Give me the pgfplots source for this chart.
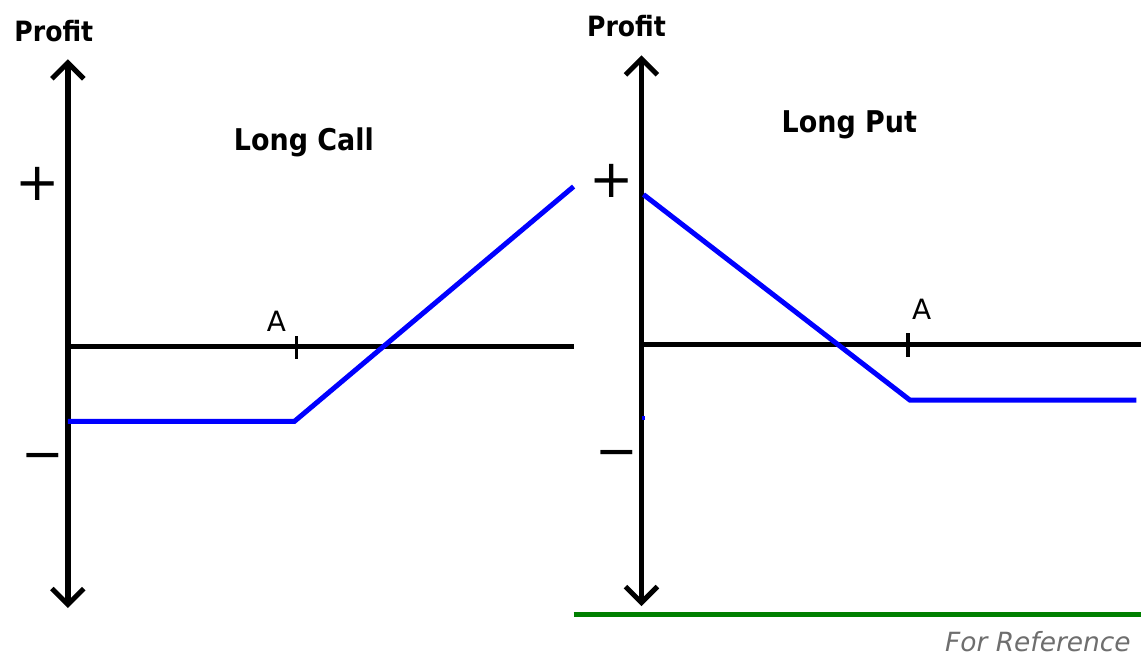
\documentclass[border=0pt]{standalone}
\usepackage{pgfplots}
\pgfplotsset{compat=1.18}
\usepackage{fontspec}
\setmainfont{DejaVu Sans}
\newfontfamily\cond{DejaVu Sans}[FakeStretch=0.9]
\definecolor{refgreen}{RGB}{0,128,0}
\definecolor{refgray}{RGB}{110,110,110}
\begin{document}
\begin{tikzpicture}
\begin{axis}[
  xmin=0, xmax=1144, ymin=0, ymax=660,
  width=1144pt, height=660pt, scale only axis,
  axis lines=none, clip=false, y dir=reverse,
  every node/.style={inner sep=0pt, outer sep=0pt},
]
\path[draw=none] (axis cs:0,0) rectangle (axis cs:1144,660);
% ---------- Left panel: Long Call ----------
\addplot[black, line width=5.5pt] coordinates {(68,66) (68,603)};
\addplot[black, line width=5pt, line join=miter] coordinates {(52,79) (68,63) (84,79)};
\addplot[black, line width=5pt, line join=miter] coordinates {(52,590) (68,606) (84,590)};
\addplot[black, line width=5.5pt] coordinates {(68,347.5) (575,347.5)};
\addplot[black, line width=3.5pt] coordinates {(297,337) (297,360)};
\addplot[blue, line width=5pt] coordinates {(68,422.5) (295,422.5) (575,187)};
\node[anchor=base west] at (axis cs:11,42) {\cond\bfseries\fontsize{28}{30}\selectfont Profit};
\node[anchor=base west] at (axis cs:231,151) {\cond\bfseries\fontsize{30}{32}\selectfont Long Call};
\node[anchor=base] at (axis cs:277,332) {\fontsize{28}{30}\selectfont A};
\node at (axis cs:38,184) {\fontsize{53}{55}\selectfont\vphantom{+}+};
\node at (axis cs:43,457) {\fontsize{51}{55}\selectfont\vphantom{+}−};
% ---------- Right panel: Long Put ----------
\addplot[black, line width=5.5pt] coordinates {(643,62) (643,601)};
\addplot[black, line width=5pt, line join=miter] coordinates {(627,75) (643,59) (659,75)};
\addplot[black, line width=5pt, line join=miter] coordinates {(627,588) (643,604) (659,588)};
\addplot[black, line width=5.5pt] coordinates {(643,345.5) (1144,345.5)};
\addplot[black, line width=3.5pt] coordinates {(910,334) (910,358)};
\addplot[blue, line width=5pt] coordinates {(645,195) (912,401) (1139,401)};
\addplot[blue, line width=3.5pt] coordinates {(645,417) (645,421)};
\node[anchor=base west] at (axis cs:585,37) {\cond\bfseries\fontsize{28}{30}\selectfont Profit};
\node[anchor=base west] at (axis cs:780,133) {\cond\bfseries\fontsize{30}{32}\selectfont Long Put};
\node[anchor=base] at (axis cs:924,320) {\fontsize{28}{30}\selectfont A};
\node at (axis cs:613,181) {\fontsize{53}{55}\selectfont\vphantom{+}+};
\node at (axis cs:618,454) {\fontsize{51}{55}\selectfont\vphantom{+}−};
% ---------- Footer ----------
\addplot[refgreen, line width=5pt] coordinates {(575,616) (1144,616)};
\node[anchor=base east, text=refgray] at (axis cs:1137,653) {\itshape\fontsize{26.5}{29}\selectfont For Reference};
\end{axis}
\end{tikzpicture}
\end{document}
